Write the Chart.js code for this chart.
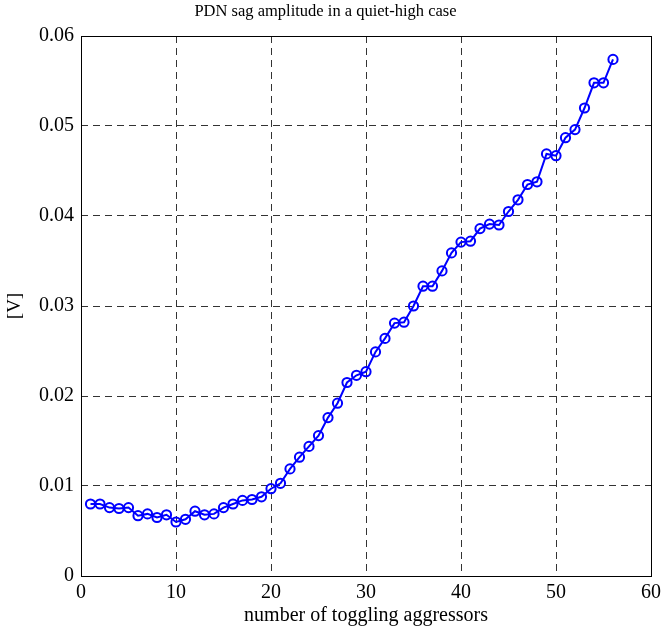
<!DOCTYPE html>
<html>
<head>
<meta charset="utf-8">
<script src="https://cdn.jsdelivr.net/npm/chart.js@4/dist/chart.umd.min.js"></script>
<style>
  html, body { margin: 0; padding: 0; background: #fff; }
  #wrap { width: 661px; height: 628px; }
</style>
</head>
<body>
<div id="wrap"><canvas id="c" width="661" height="628"></canvas></div>
<script>
const aggressors = [1,2,3,4,5,6,7,8,9,10,11,12,13,14,15,16,17,18,19,20,21,22,23,24,25,26,27,28,29,30,31,32,33,34,35,36,37,38,39,40,41,42,43,44,45,46,47,48,49,50,51,52,53,54,55,56];
const sagVolts = [0.0080,0.0080,0.0076,0.0075,0.0076,0.0067,0.0069,0.0065,0.0068,0.0060,0.0063,0.0072,0.0068,0.0069,0.0076,0.0080,0.0084,0.0085,0.0088,0.0097,0.0103,0.0119,0.0132,0.0144,0.0156,0.0176,0.0192,0.0215,0.0223,0.0227,0.0249,0.0264,0.0281,0.0282,0.0300,0.0322,0.0322,0.0339,0.0359,0.0371,0.0372,0.0386,0.0391,0.0390,0.0405,0.0418,0.0435,0.0438,0.0469,0.0467,0.0487,0.0496,0.0520,0.0548,0.0548,0.0574];
const xTicks = [0,10,20,30,40,50,60];
const yTicks = [0,0.01,0.02,0.03,0.04,0.05,0.06];

const serif = "'Liberation Serif', 'Times New Roman', serif";

const framePlugin = {
  id: 'frame',
  afterDraw(chart) {
    const a = chart.chartArea, ctx = chart.ctx;
    ctx.save();
    ctx.strokeStyle = '#000';
    ctx.lineWidth = 1;
    ctx.setLineDash([]);
    ctx.strokeRect(Math.round(a.left) + 0.5, Math.round(a.top) + 0.5, Math.round(a.right - a.left), Math.round(a.bottom - a.top));
    ctx.restore();
  }
};

new Chart(document.getElementById('c'), {
  type: 'line',
  data: {
    datasets: [{
      data: aggressors.map((x, i) => ({ x: x, y: sagVolts[i] })),
      borderColor: '#0000ff',
      backgroundColor: 'rgba(0,0,0,0)',
      borderWidth: 2,
      pointStyle: 'circle',
      pointRadius: 4.6,
      pointBorderWidth: 2,
      pointBorderColor: '#0000ff',
      pointBackgroundColor: 'rgba(0,0,0,0)',
      tension: 0
    }]
  },
  options: {
    responsive: false,
    animation: false,
    layout: { padding: { left: 0, right: 10, top: 0, bottom: 0 } },
    plugins: {
      legend: { display: false },
      tooltip: { enabled: false },
      title: {
        display: true,
        text: 'PDN sag amplitude in a quiet-high case',
        color: '#000',
        font: { family: serif, size: 16.5, weight: 'normal' },
        padding: { top: 2, bottom: 14.2 }
      }
    },
    scales: {
      x: {
        type: 'linear',
        min: 0, max: 60,
        afterBuildTicks(s) { s.ticks = xTicks.map(v => ({ value: v })); },
        afterFit(s) { s.height = 52; s.paddingLeft = 0; s.paddingRight = 0; },
        grid: { color: '#333', drawTicks: false, lineWidth: 1 },
        border: { display: false, dash: [7, 5] },
        ticks: { color: '#000', font: { family: serif, size: 20 }, padding: 5, maxRotation: 0 },
        title: { display: true, text: 'number of toggling aggressors', color: '#000', font: { family: serif, size: 20 }, padding: { top: 0, bottom: 0 } }
      },
      y: {
        type: 'linear',
        min: 0, max: 0.06,
        afterBuildTicks(s) { s.ticks = yTicks.map(v => ({ value: v })); },
        afterFit(s) { s.width = 81; s.paddingTop = 0; s.paddingBottom = 0; },
        grid: { color: '#333', drawTicks: false, lineWidth: 1 },
        border: { display: false, dash: [7, 5] },
        ticks: {
          color: '#000', font: { family: serif, size: 20 }, padding: 7,
          callback: v => (Math.abs(v) < 1e-9 ? '0' : v.toFixed(2))
        },
        title: { display: true, text: '[V]', color: '#000', font: { family: serif, size: 19 }, padding: { top: 4, bottom: 0 } }
      }
    }
  },
  plugins: [framePlugin]
});
</script>
</body>
</html>
